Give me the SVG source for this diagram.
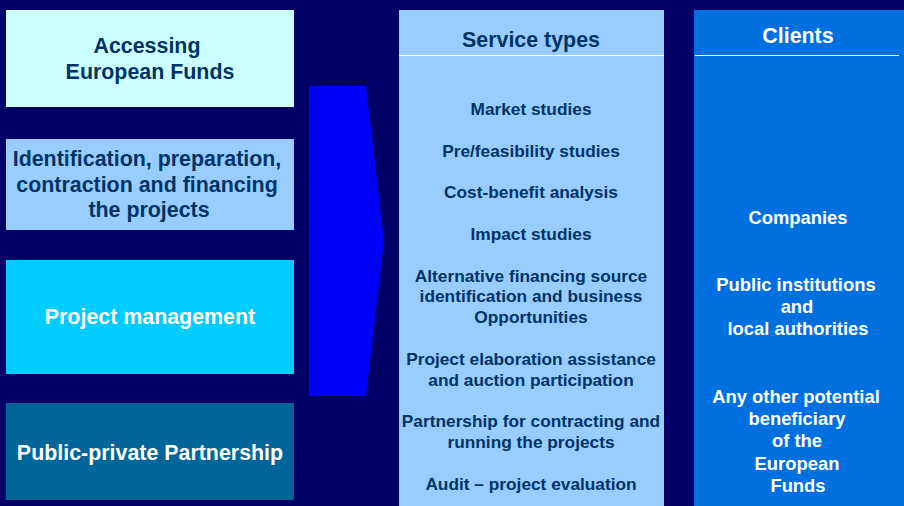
<svg xmlns="http://www.w3.org/2000/svg" width="904" height="506" viewBox="0 0 904 506">
<style>
text{font-family:"Liberation Sans",Arial,sans-serif;font-weight:bold;text-anchor:middle}
.dk{fill:#003366}
.wh{fill:#ffffff}
.big{font-size:21.4px}
.sm{font-size:17.3px}
.cl{font-size:18.4px}
</style>
<rect width="904" height="506" fill="#000066"/>
<g id="accessing">
<rect x="6" y="10" width="288" height="97" fill="#CCFFFF"/>
<text class="dk big" x="147" y="53">Accessing</text>
<text class="dk big" x="150" y="79">European Funds</text>
</g>
<g id="identification">
<rect x="6" y="139" width="288" height="91" fill="#99CCFF"/>
<text class="dk big" x="147" y="166">Identification, preparation,</text>
<text class="dk big" x="147" y="192">contraction and financing</text>
<text class="dk big" x="149" y="217">the projects</text>
</g>
<g id="project-management">
<rect x="6" y="260" width="288" height="114" fill="#00CCFF"/>
<text class="wh big" x="150" y="324">Project management</text>
</g>
<g id="ppp">
<rect x="6" y="403" width="288" height="97" fill="#006699"/>
<text class="wh big" x="150" y="460">Public-private Partnership</text>
</g>
<g id="connectors">
<polygon points="309,86 366,86 384,241 366,396 309,396" fill="#0000FF"/>
</g>
<g id="service-types">
<rect x="399" y="10" width="265" height="496" fill="#99CCFF"/>
<line x1="399" y1="55.5" x2="664" y2="55.5" stroke="#ffffff" stroke-width="1"/>
<text class="dk big" x="531" y="47">Service types</text>
<text class="dk sm" x="531" y="115">Market studies</text>
<text class="dk sm" x="531" y="157">Pre/feasibility studies</text>
<text class="dk sm" x="531" y="198">Cost-benefit analysis</text>
<text class="dk sm" x="531" y="240">Impact studies</text>
<text class="dk sm" x="531" y="282">Alternative financing source</text>
<text class="dk sm" x="531" y="302">identification and business</text>
<text class="dk sm" x="531" y="323">Opportunities</text>
<text class="dk sm" x="531" y="365">Project elaboration assistance</text>
<text class="dk sm" x="531" y="386">and auction participation</text>
<text class="dk sm" x="531" y="427">Partnership for contracting and</text>
<text class="dk sm" x="531" y="448">running the projects</text>
<text class="dk sm" x="531" y="490">Audit – project evaluation</text>
</g>
<g id="clients">
<rect x="694" y="10" width="210" height="496" fill="#0070E0"/>
<line x1="695" y1="55.5" x2="899" y2="55.5" stroke="#ffffff" stroke-width="1"/>
<text class="wh big" x="798" y="43">Clients</text>
<text class="wh cl" x="798" y="224">Companies</text>
<text class="wh cl" x="796" y="291">Public institutions</text>
<text class="wh cl" x="797" y="313">and</text>
<text class="wh cl" x="798" y="335">local authorities</text>
<text class="wh cl" x="796" y="403">Any other potential</text>
<text class="wh cl" x="797" y="425">beneficiary</text>
<text class="wh cl" x="797" y="447">of the</text>
<text class="wh cl" x="797" y="470">European</text>
<text class="wh cl" x="798" y="492">Funds</text>
</g>
</svg>
